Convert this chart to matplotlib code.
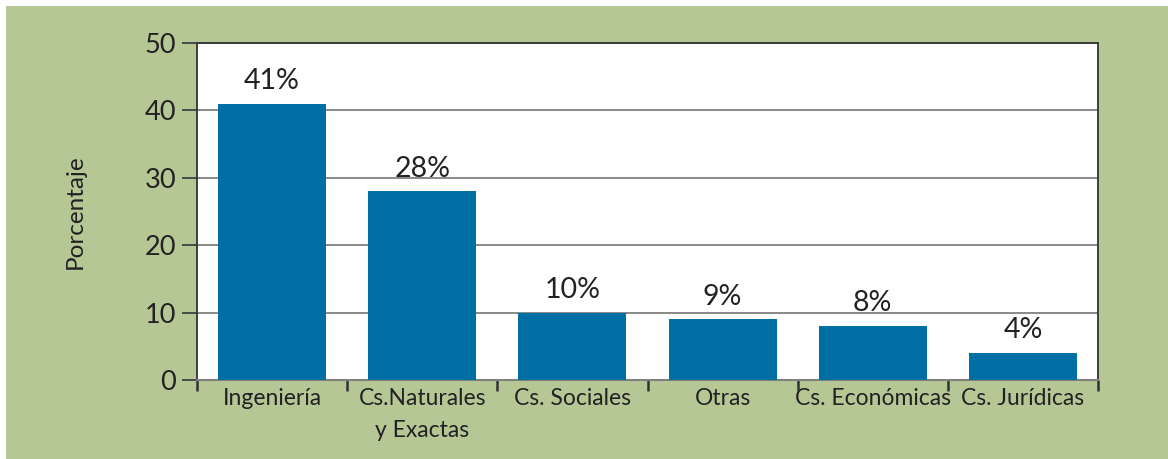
import numpy as np
import matplotlib.pyplot as plt
from matplotlib.patches import Rectangle

plt.rcParams['font.family'] = ['Lato', 'DejaVu Sans']

categorias = ['Ingeniería', 'Cs.Naturales\ny Exactas', 'Cs. Sociales', 'Otras',
              'Cs. Económicas', 'Cs. Jurídicas']
porcentajes = [41, 28, 10, 9, 8, 4]
yticks = [0, 10, 20, 30, 40, 50]

verde = '#b6c796'
azul = '#0070a4'

W, H = 1168, 459
fig = plt.figure(figsize=(W / 100, H / 100), dpi=100, facecolor='white')
fig.patches.append(Rectangle((6 / W, 0), 1 - 6 / W, 1 - 6 / H, transform=fig.transFigure,
                             facecolor=verde, edgecolor='none', zorder=-10))

ax = fig.add_axes([197 / W, 1 - 380 / H, (1098 - 197) / W, (380 - 43) / H])
ax.set_facecolor('white')

x = np.arange(len(categorias))
bars = ax.bar(x, porcentajes, width=0.72, color=azul, zorder=3)
for b, v in zip(bars, porcentajes):
    ax.annotate('%d%%' % v, (b.get_x() + b.get_width() / 2, v), xytext=(0, 7),
                textcoords='offset points', ha='center', va='bottom',
                fontsize=20.5, color='#222222')

ax.set_xlim(-0.5, len(categorias) - 0.5)
ax.set_ylim(0, 50)
ax.set_yticks(yticks)
ax.set_yticklabels([str(t) for t in yticks], fontsize=19.5, color='#222222')
ax.yaxis.grid(True, color='#808080', linewidth=1.3, zorder=0)
ax.tick_params(axis='y', length=11, width=1.3, color='#404040', pad=4)

ax.set_xticks(x)
ax.set_xticklabels(categorias, fontsize=16.5, color='#222222', linespacing=1.6)
ax.set_xticks(np.arange(-0.5, len(categorias)), minor=True)
ax.tick_params(axis='x', which='major', length=0, pad=6)
ax.tick_params(axis='x', which='minor', length=8, width=1.8, color='#333333', direction='out')

for s in ['left', 'top', 'right']:
    ax.spines[s].set_color('#333333')
    ax.spines[s].set_linewidth(1.3)
ax.spines['bottom'].set_color('#808080')
ax.spines['bottom'].set_linewidth(1.5)

ax.set_ylabel('Porcentaje', fontsize=17.5, color='#222222', labelpad=42)

fig.savefig('out.png', dpi=100, facecolor=fig.get_facecolor())
